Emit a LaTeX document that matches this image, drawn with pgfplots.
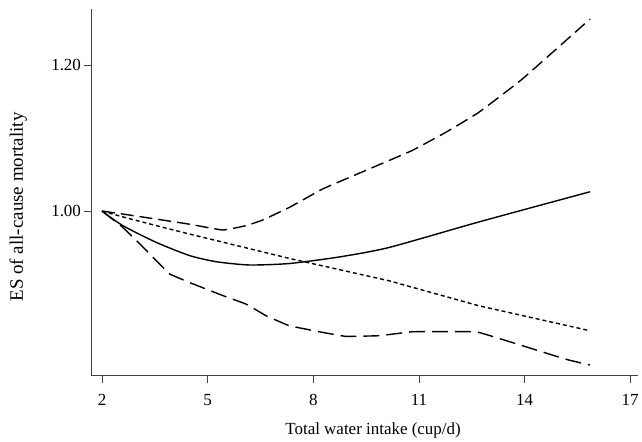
\documentclass[border=0pt]{standalone}
\usepackage{pgfplots}
\pgfplotsset{compat=1.18}
\usepackage{fontspec}
\setmainfont{Liberation Serif}
\begin{document}
\begin{tikzpicture}
\begin{axis}[
  scale only axis,
  width=548.3pt, height=367.4pt,
  xmin=1.70, xmax=17.23,
  ymin=0.774, ymax=1.277,
  axis x line=bottom, axis y line=left,
  axis line style={-, line width=0.8pt, black!75},
  tick style={line width=0.8pt, black!75},
  tick align=outside,
  major tick length=7pt,
  xtick={2,5,8,11,14,17},
  ytick={1.0,1.2},
  yticklabel style={/pgf/number format/fixed, /pgf/number format/fixed zerofill, /pgf/number format/precision=2, font=\fontsize{17}{20}\selectfont},
  xticklabel style={font=\fontsize{17}{20}\selectfont, yshift=-8pt},
  /pgf/number format/assume math mode=true,
  xlabel={Total water intake (cup/d)},
  xlabel style={at={(axis description cs:0.515,0)}, anchor=base, yshift=-59.3pt, font=\fontsize{17}{20}\selectfont},
  ylabel={ES of all-cause mortality},
  ylabel style={at={(axis description cs:-0.134,0.4605)}, anchor=center, rotate=0, font=\fontsize{19}{22}\selectfont},
  clip=false,
]
% point estimate (solid)
\addplot[black, line width=1.4pt, smooth, tension=0.4] coordinates {
(2,1.000) (2.59,0.980) (3.54,0.957) (4.48,0.939) (5.24,0.9305) (6.18,0.926)
(7.32,0.928) (8.74,0.937) (10.15,0.950) (12.70,0.985) (15.86,1.0265)};
% linear trend (dotted)
\addplot[black, line width=1.4pt, dash pattern=on 4pt off 3pt] coordinates {
(2,1.000) (2.59,0.992) (3.54,0.980) (4.48,0.9685) (7.32,0.935) (10.15,0.9043) (12.70,0.870) (15.86,0.8357)};
% upper CI (dashed)
\addplot[black, line width=1.4pt, dash pattern=on 13pt off 6pt, smooth, tension=0.2] coordinates {
(2,1.000) (2.59,0.9959) (3.54,0.989) (4.48,0.982) (5.43,0.974) (6.09,0.980)
(6.56,0.9877) (7.32,1.005) (8.26,1.0302) (8.92,1.044) (9.87,1.0636) (10.81,1.0832)
(11.76,1.108) (12.70,1.1355) (13.93,1.181) (15.86,1.2636)};
% lower CI (dashed)
\addplot[black, line width=1.4pt, dash pattern=on 16pt off 7pt, smooth, tension=0.15] coordinates {
(2,1.000) (2.59,0.9776) (3.07,0.955) (3.54,0.932) (3.92,0.9137) (4.48,0.902)
(5.43,0.884) (6.09,0.8723) (6.66,0.8563) (7.32,0.8426) (8.26,0.8335) (8.92,0.828)
(9.87,0.8289) (10.81,0.8343) (11.76,0.8345) (12.70,0.8335) (15.16,0.7968) (15.86,0.7886)};
\end{axis}
\path (current axis.south west) ++(-91.7pt,-64.3pt) rectangle ++(642pt,441pt);
\end{tikzpicture}
\end{document}
